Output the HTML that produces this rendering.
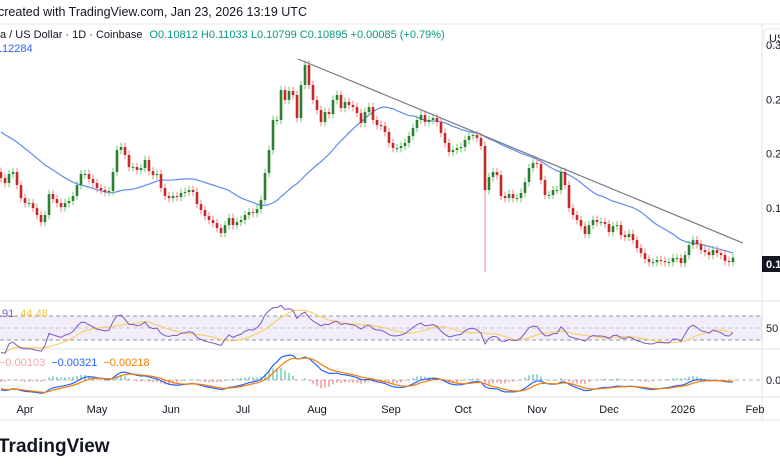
<!DOCTYPE html>
<html><head><meta charset="utf-8"><style>
body{margin:0;background:#fff;width:780px;height:470px;overflow:hidden;font-family:"Liberation Sans",sans-serif}
svg{display:block}
</style></head><body>
<svg id="c" width="780" height="470" xmlns="http://www.w3.org/2000/svg">
<text x="-2" y="16" font-size="12.5" fill="#131722">created with TradingView.com, Jan 23, 2026 13:19 UTC</text>
<line x1="0" y1="24" x2="780" y2="24" stroke="#e6e8ee"/>
<line x1="762" y1="24" x2="762" y2="420" stroke="#e0e3eb"/>
<line x1="0" y1="301" x2="780" y2="301" stroke="#e0e3eb"/>
<line x1="0" y1="349" x2="780" y2="349" stroke="#e0e3eb"/>
<line x1="0" y1="397" x2="780" y2="397" stroke="#e0e3eb"/>
<line x1="0" y1="420" x2="780" y2="420" stroke="#e0e3eb"/>
<rect x="0" y="316" width="762" height="24" fill="#7e57c2" fill-opacity="0.1"/>
<g stroke="#9598a1" stroke-dasharray="4,3">
<line x1="0" y1="316" x2="762" y2="316"/><line x1="0" y1="328" x2="762" y2="328" stroke-opacity="0.5"/><line x1="0" y1="340" x2="762" y2="340"/></g>
<line x1="0" y1="380" x2="762" y2="380" stroke="#b2b5be" stroke-dasharray="4,3"/>
<g id="plot"></g>
<text font-size="11" y="38"><tspan fill="#131722">a / US Dollar · 1D · Coinbase  </tspan><tspan fill="#089981" dx="4">O0.10812  H0.11033  L0.10799  C0.10895  +0.00085 (+0.79%)</tspan></text>
<text x="-1" y="52" font-size="11" fill="#2962ff">.12284</text>
<text x="-1" y="317" font-size="11"><tspan fill="#7e57c2">.91</tspan><tspan fill="#f7c744" dx="6">44.48</tspan></text>
<text x="-1" y="366" font-size="11"><tspan fill="#f7a6a6">−0.00103</tspan><tspan fill="#2962ff" dx="6">−0.00321</tspan><tspan fill="#f57c00" dx="6">−0.00218</tspan></text>
<rect x="764" y="29" width="20" height="18" rx="3" fill="#fff" stroke="#e0e3eb"/>
<text x="769" y="42" font-size="11" fill="#131722">US</text>
<g id="yax" font-size="11" fill="#131722"></g>
<rect x="762" y="256" width="20" height="16" fill="#131722"/>
<text x="766" y="268" font-size="11" font-weight="bold" fill="#fff">0.1</text>
<text x="766" y="332" font-size="11" fill="#131722">50</text>
<text x="766" y="384" font-size="11" fill="#131722">0.0</text>
<g id="xax" font-size="11" fill="#131722"></g>
<text x="-2" y="452" font-size="19" font-weight="bold" fill="#131722">TradingView</text>
</svg>
<script>
const closes=[.1774,.1728,.1811,.1829,.1709,.1589,.1543,.1543,.1497,.1433,.1368,.1433,.1626,.1580,.1543,.1506,.1543,.1562,.1608,.1709,.1811,.1811,.1765,.1728,.1682,.1663,.1645,.1654,.1829,.2032,.2060,.1986,.1875,.1875,.1848,.1866,.1940,.1838,.1801,.1811,.1682,.1608,.1589,.1608,.1599,.1636,.1645,.1663,.1645,.1534,.1479,.1423,.1387,.1359,.1313,.1267,.1340,.1405,.1340,.1368,.1387,.1433,.1460,.1451,.1488,.1571,.1820,.2032,.2309,.2309,.2585,.2493,.2576,.2539,.2327,.2631,.2816,.2631,.2493,.2401,.2290,.2382,.2364,.2493,.2539,.2419,.2475,.2447,.2428,.2373,.2281,.2382,.2428,.2309,.2262,.2253,.2198,.2097,.2050,.2050,.2069,.2097,.2161,.2235,.2309,.2355,.2290,.2309,.2327,.2290,.2189,.2097,.2014,.2032,.2050,.2060,.2124,.2161,.2170,.2143,.2069,.1663,.1783,.1829,.1801,.1608,.1589,.1626,.1589,.1589,.1636,.1737,.1866,.1912,.1903,.1755,.1617,.1617,.1663,.1663,.1829,.1709,.1497,.1433,.1387,.1331,.1258,.1340,.1387,.1368,.1368,.1350,.1276,.1331,.1340,.1248,.1230,.1258,.1202,.1128,.1082,.1027,.0999,.0999,.1018,.1009,.0999,.0999,.1036,.1036,.0990,.1064,.1156,.1202,.1165,.1110,.1092,.1064,.1110,.1082,.1064,.1010,.1000,.1040];
const priorCloses=[.250,.247,.249,.244,.246,.245,.242,.240,.236,.238,.233,.230,.232,.228,.225,.226,.222,.219,.221,.216,.214,.212,.210,.207,.204,.201,.197,.193,.188,.183];
const lowOverrides={121:0.0908};
const priceTicks=[0.30,0.25,0.20,0.15,0.10];
const priceTickLabels=["0.3","0.2","0.2","0.1","0.1"];
const monthLabels=["Apr","May","Jun","Jul","Aug","Sep","Oct","Nov","Dec","2026","Feb"];
const monthIndex=[6,24,42.5,60.5,79,97.5,115.5,134,152,170.5,188.5];
const trendStart=[74.3,0.2871], trendEnd=[185.5,0.1175];

const NS="http://www.w3.org/2000/svg";
const plot=document.getElementById('plot');
const xS=i=>1+4*i;
const yS=p=>45+(0.30-p)*1085;
function mk(tag,attrs,parent){const e=document.createElementNS(NS,tag);for(const k in attrs)e.setAttribute(k,attrs[k]);(parent||plot).appendChild(e);return e;}

const yax=document.getElementById('yax');
priceTicks.forEach((t,k)=>{const e=mk('text',{x:766,y:yS(t)+4},yax);e.textContent=priceTickLabels[k];

});
const xax=document.getElementById('xax');
monthLabels.forEach((m,k)=>{const e=mk('text',{x:xS(monthIndex[k]),y:413,'text-anchor':'middle'},xax);e.textContent=m;

});

const all=priorCloses.concat(closes);const NP=priorCloses.length;const W=29;
const ma=closes.map((c,i)=>{let s=0,n=0;for(let j=Math.max(0,i+NP-W+1);j<=i+NP;j++){s+=all[j];n++;}return s/n;});
const maPath=mk('path',{d:ma.map((v,i)=>(i?'L':'M')+xS(i)+','+yS(v)).join(''),fill:'none',stroke:'#5b8def','stroke-width':1.2});



closes.forEach((c,i)=>{const o=i?closes[i-1]:priorCloses[NP-1];const up=c>=o;const col=up?'#2e7d32':'#c62828';const wc=up?'#66d266':'#f08080';
const hi=Math.max(o,c)+0.004;const lo=lowOverrides[i]!==undefined?lowOverrides[i]:Math.min(o,c)-0.004;const x=xS(i);
const g=mk('g',{});


mk('line',{x1:x,x2:x,y1:yS(hi),y2:yS(lo),stroke:wc,'stroke-width':1},g);
const t=Math.min(yS(o),yS(c));mk('rect',{x:x-1.3,y:t,width:2.6,height:Math.max(1,Math.abs(yS(o)-yS(c))),fill:col},g);});

const tl=mk('line',{x1:xS(trendStart[0]),y1:yS(trendStart[1]),x2:xS(trendEnd[0]),y2:yS(trendEnd[1]),stroke:'#787b86','stroke-width':1.2});



const P=12;let ag=0.002,al=0.002;const rsi=[];
all.forEach((c,i)=>{if(!i)return;const d=c-all[i-1];const g=Math.max(d,0),l=Math.max(-d,0);ag=(ag*(P-1)+g)/P;al=(al*(P-1)+l)/P;if(i>=NP)rsi.push(al===0?100:100-100/(1+ag/al));});
const rY=v=>328-(v-50)*0.6;
const rma=rsi.map((v,i)=>{let s=0,n=0;for(let j=Math.max(0,i-8);j<=i;j++){s+=rsi[j];n++;}return s/n;});
const rl=mk('path',{d:rma.map((v,i)=>(i?'L':'M')+xS(i)+','+rY(v)).join(''),fill:'none',stroke:'#f7d26a','stroke-width':1.2});


const rp=mk('path',{d:rsi.map((v,i)=>(i?'L':'M')+xS(i)+','+rY(v)).join(''),fill:'none',stroke:'#7e57c2','stroke-width':1});



function ema(arr,n){const k=2/(n+1);let e=arr[0];return arr.map(v=>e=v*k+e*(1-k));}
const e1=ema(all,7),e2=ema(all,15);const macdAll=e1.map((v,i)=>v-e2[i]);const sigAll=ema(macdAll,5);
const macd=macdAll.slice(NP),sig=sigAll.slice(NP);
const mx=Math.max(...macd.map(Math.abs));const mY=v=>380-v/mx*25;
macd.forEach((v,i)=>{const h=v-sig[i];const b=mk('rect',{x:xS(i)-1,y:Math.min(mY(h*1.5),380),width:2,height:Math.abs(mY(h*1.5)-380),fill:h>=0?'#26a69a':'#ef5350','fill-opacity':0.45});

});
const ml=mk('path',{d:macd.map((v,i)=>(i?'L':'M')+xS(i)+','+mY(v)).join(''),fill:'none',stroke:'#2962ff','stroke-width':1.2});


const sl=mk('path',{d:sig.map((v,i)=>(i?'L':'M')+xS(i)+','+mY(v)).join(''),fill:'none',stroke:'#f57c00','stroke-width':1.2});


</script>
</body></html>
